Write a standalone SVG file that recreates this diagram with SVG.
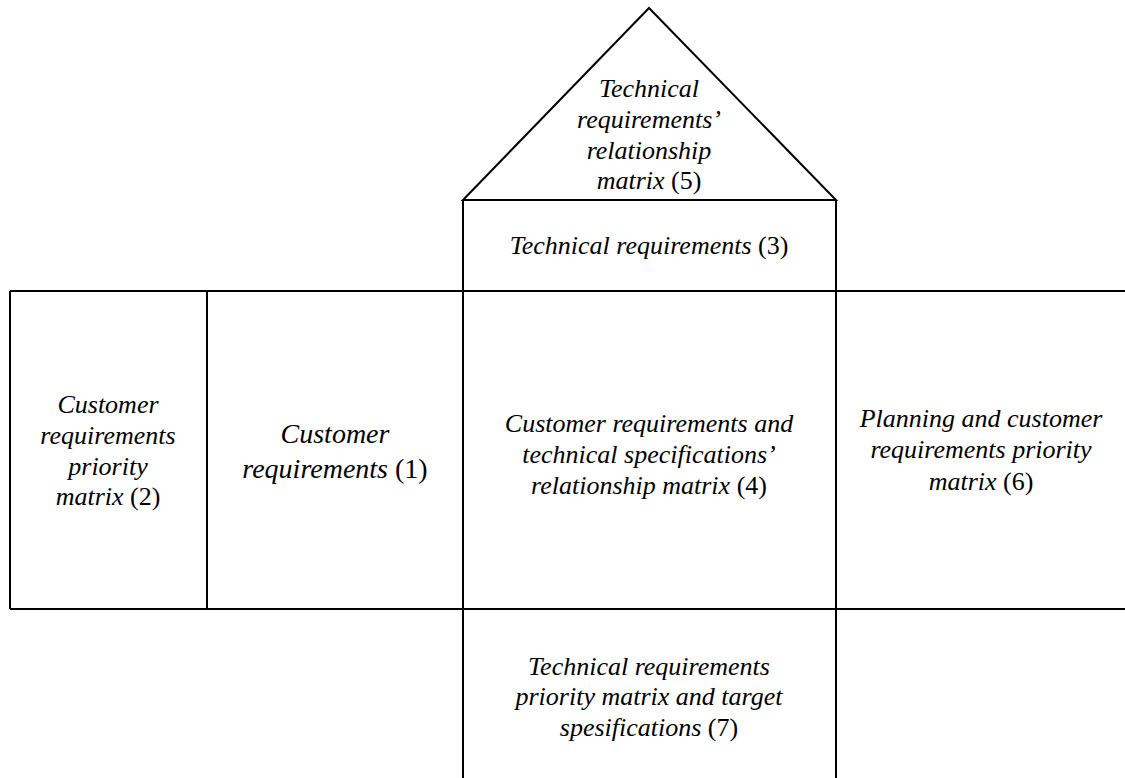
<svg xmlns="http://www.w3.org/2000/svg" width="1125" height="778" viewBox="0 0 1125 778">
  <style>
    .ln { fill: none; stroke: #000; stroke-width: 2; stroke-linejoin: miter; }
    .lbl { font-family: "Liberation Serif", "Times New Roman", serif; font-size: 26px; font-style: italic; fill: #000; text-anchor: middle; }
    .lbl.big { font-size: 28px; }
    .num { font-style: normal; }
  </style>
  <rect width="1125" height="778" fill="#fff"/>

  <!-- frame lines of the house -->
  <g id="connectors">
    <line class="ln" x1="10" y1="291" x2="1125" y2="291"/>
    <line class="ln" x1="10" y1="609" x2="1125" y2="609"/>
    <line class="ln" x1="10" y1="291" x2="10" y2="609"/>
    <line class="ln" x1="207" y1="291" x2="207" y2="609"/>
    <line class="ln" x1="463" y1="200" x2="463" y2="778"/>
    <line class="ln" x1="836" y1="200" x2="836" y2="778"/>
  </g>

  <!-- roof: correlation matrix -->
  <g id="roof">
    <polygon class="ln" points="463,200 649,8 836,200"/>
    <text class="lbl" x="649" y="97">Technical</text>
    <text class="lbl" x="649" y="128">requirements’</text>
    <text class="lbl" x="649" y="159">relationship</text>
    <text class="lbl" x="649" y="189">matrix <tspan class="num">(5)</tspan></text>
  </g>

  <g id="technical-requirements">
    <line class="ln" x1="463" y1="200" x2="836" y2="200"/>
    <text class="lbl" x="649" y="254">Technical requirements <tspan class="num">(3)</tspan></text>
  </g>

  <g id="priority-matrix">
    <text class="lbl" x="108" y="413">Customer</text>
    <text class="lbl" x="108" y="444">requirements</text>
    <text class="lbl" x="108" y="475">priority</text>
    <text class="lbl" x="108" y="505">matrix <tspan class="num">(2)</tspan></text>
  </g>

  <g id="customer-requirements">
    <text class="lbl big" x="335" y="443">Customer</text>
    <text class="lbl big" x="335" y="478">requirements <tspan class="num">(1)</tspan></text>
  </g>

  <g id="relationship-matrix">
    <text class="lbl" x="649" y="432">Customer requirements and</text>
    <text class="lbl" x="649" y="463">technical specifications’</text>
    <text class="lbl" x="649" y="494">relationship matrix <tspan class="num">(4)</tspan></text>
  </g>

  <g id="planning-matrix">
    <text class="lbl" x="981" y="427">Planning and customer</text>
    <text class="lbl" x="981" y="458">requirements priority</text>
    <text class="lbl" x="981" y="490">matrix <tspan class="num">(6)</tspan></text>
  </g>

  <g id="target-specifications">
    <text class="lbl" x="649" y="675">Technical requirements</text>
    <text class="lbl" x="649" y="705">priority matrix and target</text>
    <text class="lbl" x="649" y="736">spesifications <tspan class="num">(7)</tspan></text>
  </g>
</svg>
